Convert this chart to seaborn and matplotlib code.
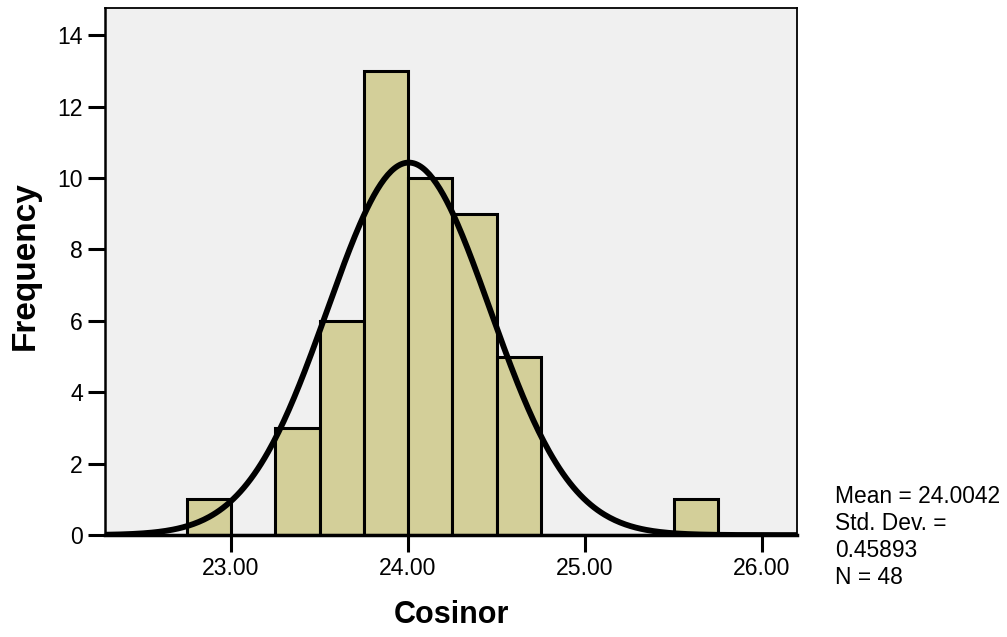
import numpy as np
import pandas as pd
import matplotlib
matplotlib.use("Agg")
import matplotlib.pyplot as plt
import seaborn as sns

# Data
bin_edges = [22.75, 23.00, 23.25, 23.50, 23.75, 24.00, 24.25, 24.50, 24.75,
             25.00, 25.25, 25.50, 25.75]
counts = [1, 0, 3, 6, 13, 10, 9, 5, 0, 0, 0, 1]
mean_val = 24.0042
sd_val = 0.45893
n_val = 48
x_ticks = [23.00, 24.00, 25.00, 26.00]
y_ticks = [0, 2, 4, 6, 8, 10, 12, 14]

sns.set_theme(style="white")
plt.rcParams['font.family'] = ['Liberation Sans', 'DejaVu Sans']
plt.rcParams['text.color'] = 'black'
plt.rcParams['axes.labelcolor'] = 'black'
plt.rcParams['xtick.color'] = 'black'
plt.rcParams['ytick.color'] = 'black'

fig = plt.figure(figsize=(10.07, 6.37), dpi=100)
ax = fig.add_axes([0.1043, 0.160, 0.6872, 0.8274])
ax.set_facecolor("#F0F0F0")

centers = [(a + b) / 2 for a, b in zip(bin_edges[:-1], bin_edges[1:])]
df = pd.DataFrame({"Cosinor": centers, "w": counts})
sns.histplot(data=df, x="Cosinor", weights="w", bins=bin_edges, ax=ax,
             color="#D3CF99", alpha=1.0, edgecolor="black", linewidth=2.2)

xs = np.linspace(22.288, 26.198, 400)
binw = bin_edges[1] - bin_edges[0]
ys = n_val * binw / (sd_val * np.sqrt(2 * np.pi)) * np.exp(-0.5 * ((xs - mean_val) / sd_val) ** 2)
sns.lineplot(x=xs, y=ys, ax=ax, color="black", linewidth=4.2)

ax.set_xlim(22.288, 26.198)
ax.set_ylim(0, 14.76)
ax.set_xticks(x_ticks)
ax.set_xticklabels([f"{t:.2f}" for t in x_ticks])
ax.set_yticks(y_ticks)
ax.tick_params(axis="both", which="major", labelsize=16.6, length=12, width=2.2,
               color="black", labelcolor="black", direction="out", pad=4,
               bottom=True, left=True)
for s in ["top", "right"]:
    ax.spines[s].set_linewidth(1.3)
    ax.spines[s].set_color("black")
ax.spines["left"].set_linewidth(1.8)
ax.spines["left"].set_color("black")
ax.spines["bottom"].set_linewidth(2.5)
ax.spines["bottom"].set_color("black")

ax.set_xlabel("Cosinor", fontsize=22, fontweight="bold", labelpad=14, color="black")
ax.set_ylabel("Frequency", fontsize=24, fontweight="bold", color="black")
ax.yaxis.set_label_coords(-0.093, 0.512)

fig.text(0.829, 0.157, f"Mean = {mean_val:.4f}\nStd. Dev. =\n{sd_val:.5f}\nN = {n_val}",
         fontsize=16.4, ha="left", va="center", linespacing=1.22, color="black")

fig.savefig("out.png", dpi=100)
